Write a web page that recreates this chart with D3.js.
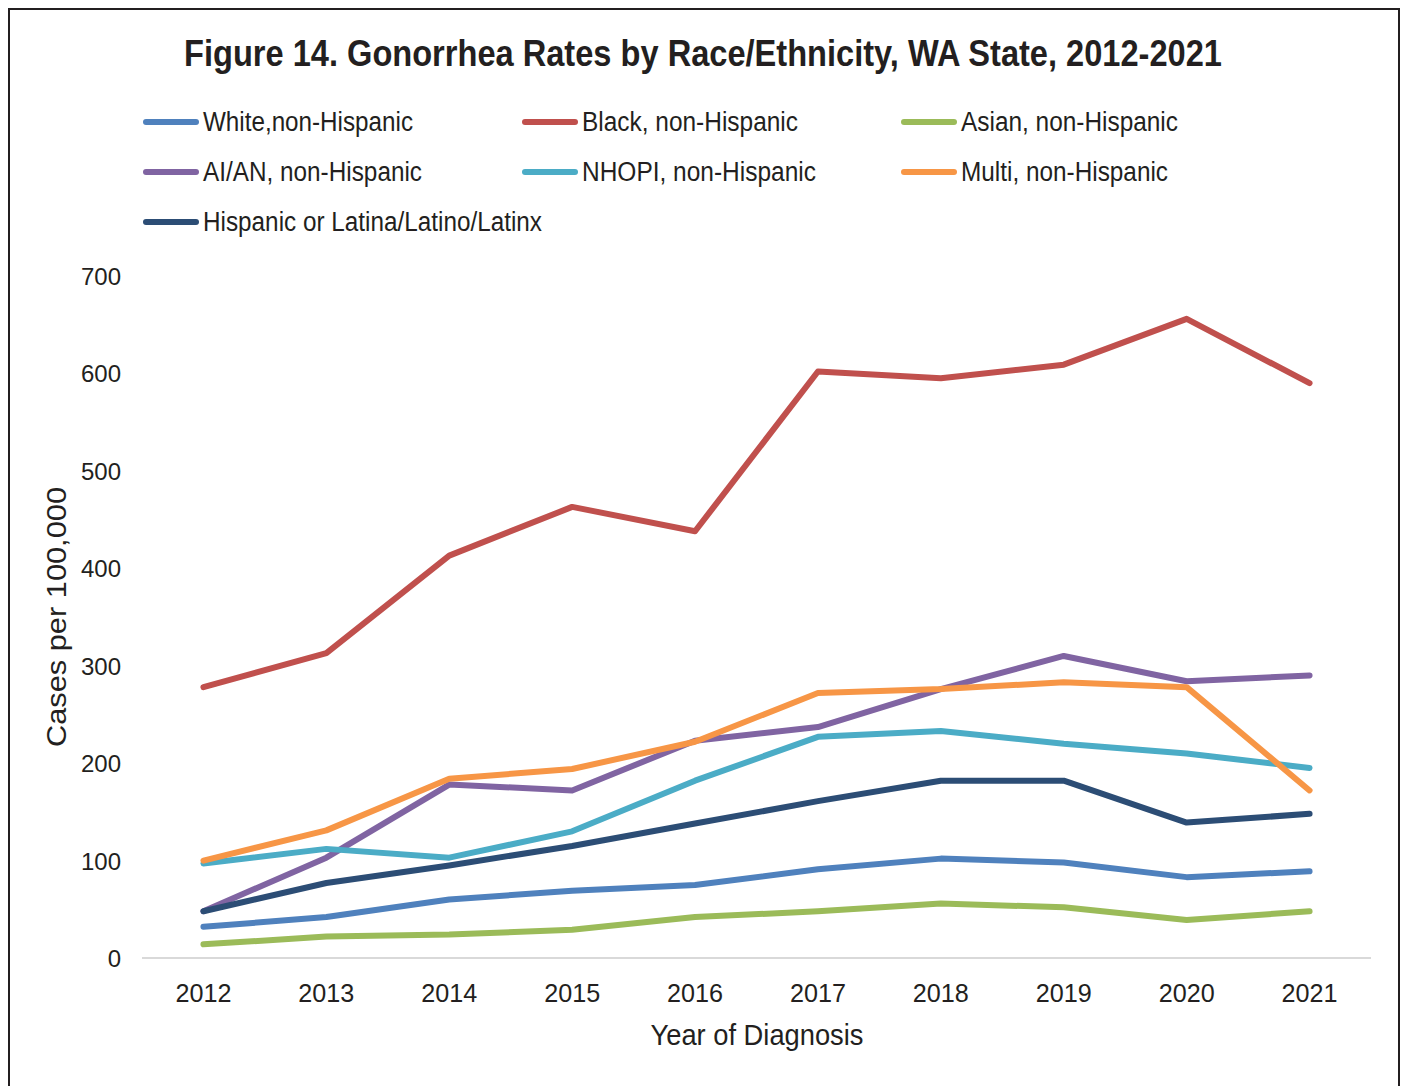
<!DOCTYPE html>
<html>
<head>
<meta charset="utf-8">
<script src="https://cdn.jsdelivr.net/npm/d3@7"></script>
<style>
  html, body { margin: 0; padding: 0; background: #fff; }
  svg { display: block; }
  text { fill: #231f20; }
</style>
</head>
<body>
<svg id="chart" width="1405" height="1086"></svg>
<script>
// ── Data ──────────────────────────────────────────────────────
const years = [2012, 2013, 2014, 2015, 2016, 2017, 2018, 2019, 2020, 2021];
const yTicks = [0, 100, 200, 300, 400, 500, 600, 700];

const white    = [32, 42, 60, 69, 75, 91, 102, 98, 83, 89];
const black    = [278, 313, 413, 463, 438, 602, 595, 609, 656, 590];
const asian    = [14, 22, 24, 29, 42, 48, 56, 52, 39, 48];
const aian     = [48, 103, 178, 172, 223, 237, 276, 310, 284, 290];
const nhopi    = [97, 112, 103, 130, 182, 227, 233, 220, 210, 195];
const multi    = [100, 131, 184, 194, 222, 272, 276, 283, 278, 172];
const hispanic = [48, 77, 95, 115, 138, 161, 182, 182, 139, 148];

const seriesNames = [
  'White,non-Hispanic', 'Black, non-Hispanic', 'Asian, non-Hispanic',
  'AI/AN, non-Hispanic', 'NHOPI, non-Hispanic', 'Multi, non-Hispanic',
  'Hispanic or Latina/Latino/Latinx'
];
const seriesValues = [white, black, asian, aian, nhopi, multi, hispanic];
const seriesColors = ['#4f81bd', '#c0504d', '#9bbb59', '#8064a2', '#4bacc6', '#f79646', '#2c4d75'];

// drawing order: back to front roughly as in the source
const drawOrder = [0, 1, 2, 3, 4, 5, 6];

const NARROW = '"Liberation Sans Narrow", "Arial Narrow", "Liberation Sans", Arial, sans-serif';
const REGULAR = '"Liberation Sans", Arial, sans-serif';

const svg = d3.select('#chart');

// frame
svg.append('rect')
  .attr('x', 9).attr('y', 9)
  .attr('width', 1390).attr('height', 1100)
  .attr('fill', 'none')
  .attr('stroke', '#231f20')
  .attr('stroke-width', 2);

// title
svg.append('text')
  .attr('x', 703).attr('y', 66)
  .attr('text-anchor', 'middle')
  .attr('font-family', NARROW)
  .attr('font-weight', 'bold')
  .attr('font-size', 37)
  .attr('textLength', 1038)
  .attr('lengthAdjust', 'spacingAndGlyphs')
  .text('Figure 14. Gonorrhea Rates by Race/Ethnicity, WA State, 2012-2021');

// scales
const x = d3.scalePoint().domain(years).range([142, 1371]).padding(0.5);
const y = d3.scaleLinear().domain([0, 700]).range([958, 276]);

// legend
const legendCols = [143, 522, 901];
const legendRows = [122, 172, 222];
const legendWidths = [210, 216, 217, 219, 234, 207, 339];

const legend = svg.append('g').attr('class', 'legend');
seriesNames.forEach((name, i) => {
  const lx = legendCols[i % 3];
  const ly = legendRows[Math.floor(i / 3)];
  legend.append('line')
    .attr('x1', lx + 3).attr('x2', lx + 53)
    .attr('y1', ly).attr('y2', ly)
    .attr('stroke', seriesColors[i])
    .attr('stroke-width', 6)
    .attr('stroke-linecap', 'round');
  legend.append('text')
    .attr('x', lx + 60).attr('y', ly + 9)
    .attr('font-family', NARROW)
    .attr('font-size', 27)
    .attr('textLength', legendWidths[i])
    .attr('lengthAdjust', 'spacingAndGlyphs')
    .text(name);
});

// horizontal axis line
svg.append('line')
  .attr('x1', 142).attr('x2', 1371)
  .attr('y1', y(0)).attr('y2', y(0))
  .attr('stroke', '#d9d9d9')
  .attr('stroke-width', 2);

// y tick labels
svg.append('g')
  .selectAll('text')
  .data(yTicks)
  .join('text')
  .attr('x', 121)
  .attr('y', d => y(d) + 9)
  .attr('text-anchor', 'end')
  .attr('font-family', REGULAR)
  .attr('font-size', 24)
  .text(d => d);

// x tick labels
svg.append('g')
  .selectAll('text')
  .data(years)
  .join('text')
  .attr('x', d => x(d))
  .attr('y', 1002)
  .attr('text-anchor', 'middle')
  .attr('font-family', REGULAR)
  .attr('font-size', 25)
  .attr('textLength', 56)
  .attr('lengthAdjust', 'spacingAndGlyphs')
  .text(d => d);

// axis titles
svg.append('text')
  .attr('x', 757).attr('y', 1045)
  .attr('text-anchor', 'middle')
  .attr('font-family', NARROW)
  .attr('font-size', 29)
  .attr('textLength', 213)
  .attr('lengthAdjust', 'spacingAndGlyphs')
  .text('Year of Diagnosis');

svg.append('text')
  .attr('transform', 'translate(66,617) rotate(-90)')
  .attr('text-anchor', 'middle')
  .attr('font-family', REGULAR)
  .attr('font-size', 27)
  .attr('textLength', 260)
  .attr('lengthAdjust', 'spacingAndGlyphs')
  .text('Cases per 100,000');

// lines
const line = d3.line()
  .x((d, i) => x(years[i]))
  .y(d => y(d));

svg.append('g')
  .selectAll('path')
  .data(drawOrder)
  .join('path')
  .attr('d', i => line(seriesValues[i]))
  .attr('fill', 'none')
  .attr('stroke', i => seriesColors[i])
  .attr('stroke-width', 6)
  .attr('stroke-linejoin', 'round')
  .attr('stroke-linecap', 'round');
</script>
</body>
</html>
